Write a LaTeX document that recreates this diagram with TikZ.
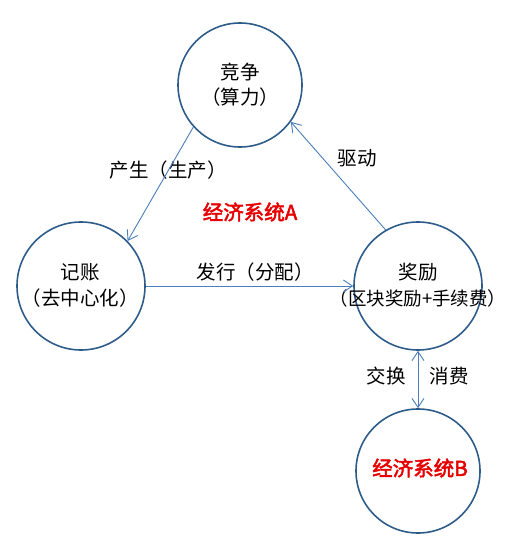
\documentclass[tikz,border=0pt]{standalone}
\usepackage{fontspec}
\newfontfamily\cjk[AutoFakeBold=2.5]{Noto Sans CJK SC}
\usetikzlibrary{arrows.meta}
\definecolor{ring}{RGB}{46,92,138}
\definecolor{link}{RGB}{74,126,187}
\definecolor{redtxt}{RGB}{230,0,0}
\tikzset{
  ring/.style={circle, draw=ring, line width=1.6pt, inner sep=0pt},
  link/.style={draw=link, line width=0.9pt, -{Straight Barb[length=9pt,width=12pt]}},
  lbl/.style={font=\cjk\fontsize{19.5}{22}\selectfont, text=black, inner sep=0pt},
  redlbl/.style={font=\cjk\bfseries\fontsize{20.5}{23}\selectfont, text=redtxt, inner sep=0pt}
}
\begin{document}
\begin{tikzpicture}[x=1pt,y=-1pt]
\useasboundingbox (0,0) rectangle (512,553);
\node[ring, minimum size=124pt] (top) at (240,85) {};
\node[ring, minimum size=128pt] (left) at (81,286) {};
\node[ring, minimum size=128pt] (right) at (418,286) {};
\node[ring, minimum size=124pt] (bot) at (418,471) {};

\node[lbl] (t1) at (240,72) {竞争};
\node[lbl] (t2) at (240,97) {（算力）};
\node[lbl] (l1) at (80,272) {记账};
\node[lbl] (l2) at (80,298) {（去中心化）};
\node[lbl] (r1) at (418,272) {奖励};
\node[lbl, font=\cjk\fontsize{18.5}{21}\selectfont] (r2) at (418,298) {（区块奖励+手续费）};

\node[lbl] (e1) at (168,170) {产生（生产）};
\node[lbl] (e2) at (357,158) {驱动};
\node[lbl] (e3) at (255,272) {发行（分配）};
\node[lbl] (e4) at (386,376) {交换};
\node[lbl] (e5) at (449,376) {消费};

\node[redlbl] (ea) at (250,212) {经济系统A};
\node[redlbl] (eb) at (420,468) {经济系统B};

\draw[link] (top.222) -- (left.44);
\draw[link] (right.120) -- (top.324);
\draw[link] (left.east) -- (right.west);
\draw[link, {Straight Barb[length=9pt,width=12pt]}-{Straight Barb[length=9pt,width=12pt]}] (right.south) -- (bot.north);
\end{tikzpicture}
\end{document}
